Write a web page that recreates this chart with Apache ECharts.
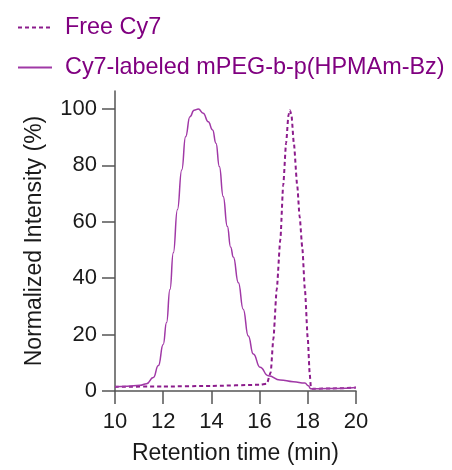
<!DOCTYPE html>
<html>
<head>
<meta charset="utf-8">
<script src="https://cdn.jsdelivr.net/npm/echarts@6/dist/echarts.min.js"></script>
<style>
  html, body { margin: 0; padding: 0; background: #fff; }
  #chart { width: 452px; height: 470px; }
</style>
</head>
<body>
<div id="chart"></div>
<script>
// retention time (min) / normalized intensity (%)
var freeTime = [10, 12, 14, 16, 16.3, 16.46, 16.57, 16.71, 16.86, 16.98, 17.1, 17.2, 17.26, 17.32, 17.42, 17.56, 17.66, 17.77, 17.88, 18.0, 18.08, 18.13, 18.2, 19, 20];
var freeVal  = [1.5, 1.6, 1.8, 2.2, 2.6, 6.6, 18.4, 36, 53.7, 73, 88, 98, 99.6, 98, 88, 73, 62, 51, 36, 18.4, 6, 1.2, 0.8, 0.9, 1.2];

var polyTime = [10, 10.5, 11.04, 11.31, 11.59, 11.8, 12.0, 12.14, 12.28, 12.42, 12.59, 12.77, 12.93, 13.11, 13.28, 13.46, 13.66, 13.87, 14.05, 14.19, 14.33, 14.49, 14.66, 14.8, 14.91, 15.12, 15.32, 15.53, 15.74, 16.02, 16.36, 16.85, 17.4, 17.88, 18.02, 18.12, 18.5, 19.2, 20];
var polyVal  = [1.5, 1.7, 2.0, 2.6, 4.8, 9, 16.5, 24.3, 36, 49, 64.3, 78.4, 90.2, 97.3, 99.6, 100, 98.5, 95.5, 92.6, 87.9, 79.6, 69, 58.4, 51, 47.5, 38.4, 29, 19.5, 13.1, 8.4, 5.4, 3.9, 3.3, 2.8, 1.9, 0.8, 0.8, 0.9, 1.2];

var yTicks = [0, 20, 40, 60, 80, 100];

function pairs(xs, ys) {
  var out = [];
  for (var i = 0; i < xs.length; i++) out.push([xs[i], ys[i]]);
  return out;
}

var font = "'Liberation Sans', Arial, sans-serif";
var axisCol = '#555';

var myChart = echarts.init(document.getElementById('chart'));
var option = {
  animation: false,
  legend: {
    orient: 'vertical',
    left: 12,
    top: 11,
    itemWidth: 34,
    itemHeight: 20,
    itemGap: 17,
    itemStyle: { opacity: 0 },
    textStyle: { fontFamily: font, fontSize: 23.4, color: '#800080', padding: [0, 0, 0, 8] },
    data: ['Free Cy7', 'Cy7-labeled mPEG-b-p(HPMAm-Bz)']
  },
  grid: { left: 115, right: 96, top: 91, bottom: 78 },
  xAxis: {
    type: 'value',
    min: 10, max: 20, interval: 2,
    name: 'Retention time (min)',
    nameLocation: 'middle',
    nameGap: 51,
    nameTextStyle: { fontFamily: font, fontSize: 23, color: '#1a1a1a' },
    axisLine: { lineStyle: { color: axisCol, width: 1.5 } },
    axisTick: { length: 13, lineStyle: { color: axisCol, width: 1.5 } },
    axisLabel: { fontFamily: font, fontSize: 22, color: '#1a1a1a', margin: 20 },
    splitLine: { show: false }
  },
  yAxis: {
    type: 'value',
    min: 0, max: 106.4,
    name: 'Normalized Intensity (%)',
    nameLocation: 'middle',
    nameGap: 69,
    nameTextStyle: { fontFamily: font, fontSize: 23, color: '#1a1a1a' },
    axisLine: { show: true, lineStyle: { color: axisCol, width: 1.5 } },
    axisTick: { show: true, length: 13, customValues: yTicks, lineStyle: { color: axisCol, width: 1.5 } },
    axisLabel: { fontFamily: font, fontSize: 22, color: '#1a1a1a', margin: 18, customValues: yTicks },
    splitLine: { show: false }
  },
  series: [
    {
      name: 'Free Cy7',
      type: 'line',
      data: pairs(freeTime, freeVal),
      symbol: 'none',
      smooth: 0.2,
      smoothMonotone: 'x',
      lineStyle: { color: '#8c1c8c', width: 2, type: [4, 3] },
      itemStyle: { color: '#8c1c8c' }
    },
    {
      name: 'Cy7-labeled mPEG-b-p(HPMAm-Bz)',
      type: 'line',
      data: pairs(polyTime, polyVal),
      symbol: 'none',
      smooth: 0.5,
      smoothMonotone: 'x',
      lineStyle: { color: '#a038a6', width: 1.5 },
      itemStyle: { color: '#a038a6' }
    }
  ]
};
option && myChart.setOption(option);
</script>
</body>
</html>
